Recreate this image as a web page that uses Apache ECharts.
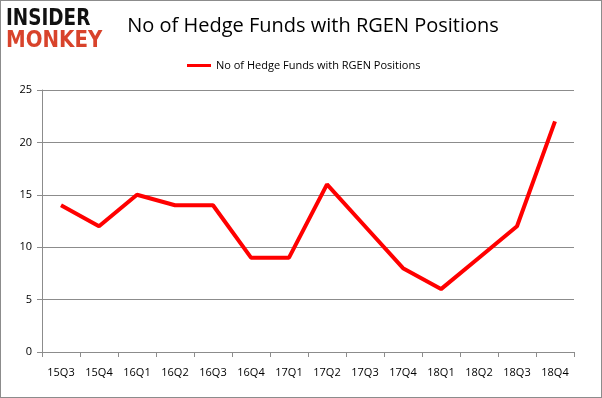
<!DOCTYPE html>
<html>
<head>
<meta charset="utf-8">
<script src="https://cdn.jsdelivr.net/npm/echarts@6/dist/echarts.min.js"></script>
<style>
  html, body { margin: 0; padding: 0; background: #fff; }
  #myChart {
    width: 600px;
    height: 396px;
    border: 1px solid #8c8c8c;
  }
</style>
</head>
<body>
<div id="myChart"></div>
<script>
// data
const quarters = ['15Q3', '15Q4', '16Q1', '16Q2', '16Q3', '16Q4', '17Q1', '17Q2', '17Q3', '17Q4', '18Q1', '18Q2', '18Q3', '18Q4']
const fundCounts = [14, 12, 15, 14, 14, 9, 9, 16, 12, 8, 6, 9, 12, 22]
const seriesName = 'No of Hedge Funds with RGEN Positions'

let myChart = echarts.init(document.getElementById('myChart'))

myChart.setOption({
  animation: false,
  title: {
    text: seriesName,
    left: 307,
    top: 10,
    textAlign: 'center',
    textStyle: {
      fontFamily: 'Open Sans',
      fontSize: 20,
      fontWeight: 'normal',
      color: '#000'
    }
  },
  // logo
  graphic: [
    {
      type: 'text',
      x: 5,
      y: 7,
      scaleX: 0.8,
      style: {
        text: 'INSIDER',
        font: 'bold 23px "DejaVu Sans"',
        fill: '#111'
      }
    },
    {
      type: 'text',
      x: 5,
      y: 29,
      scaleX: 0.86,
      style: {
        text: 'MONKEY',
        font: 'bold 23px "DejaVu Sans"',
        fill: '#d8432b'
      }
    }
  ],
  legend: {
    top: 54,
    left: 181,
    itemWidth: 24,
    itemHeight: 3,
    icon: 'rect',
    itemGap: 5,
    textStyle: {
      fontFamily: 'Open Sans',
      fontSize: 11,
      color: '#000'
    },
    data: [seriesName]
  },
  grid: {
    left: 41,
    right: 27,
    top: 89,
    bottom: 45
  },
  xAxis: {
    type: 'category',
    data: quarters,
    boundaryGap: true,
    axisLine: { lineStyle: { color: '#8c8c8c' } },
    axisTick: { show: true, length: 5, lineStyle: { color: '#8c8c8c' } },
    axisLabel: {
      margin: 15,
      fontFamily: 'Open Sans',
      fontSize: 11,
      color: '#000'
    }
  },
  yAxis: {
    type: 'value',
    min: 0,
    max: 25,
    interval: 5,
    axisLine: { show: true, lineStyle: { color: '#8c8c8c' } },
    axisTick: { show: true, length: 5, lineStyle: { color: '#8c8c8c' } },
    splitLine: { lineStyle: { color: '#8c8c8c' } },
    axisLabel: {
      margin: 10,
      fontFamily: 'Open Sans',
      fontSize: 11,
      color: '#000'
    }
  },
  series: [
    {
      name: seriesName,
      type: 'line',
      data: fundCounts,
      symbol: 'none',
      lineStyle: { color: '#ff0000', width: 4 },
      itemStyle: { color: '#ff0000' }
    }
  ]
})
</script>
</body>
</html>
